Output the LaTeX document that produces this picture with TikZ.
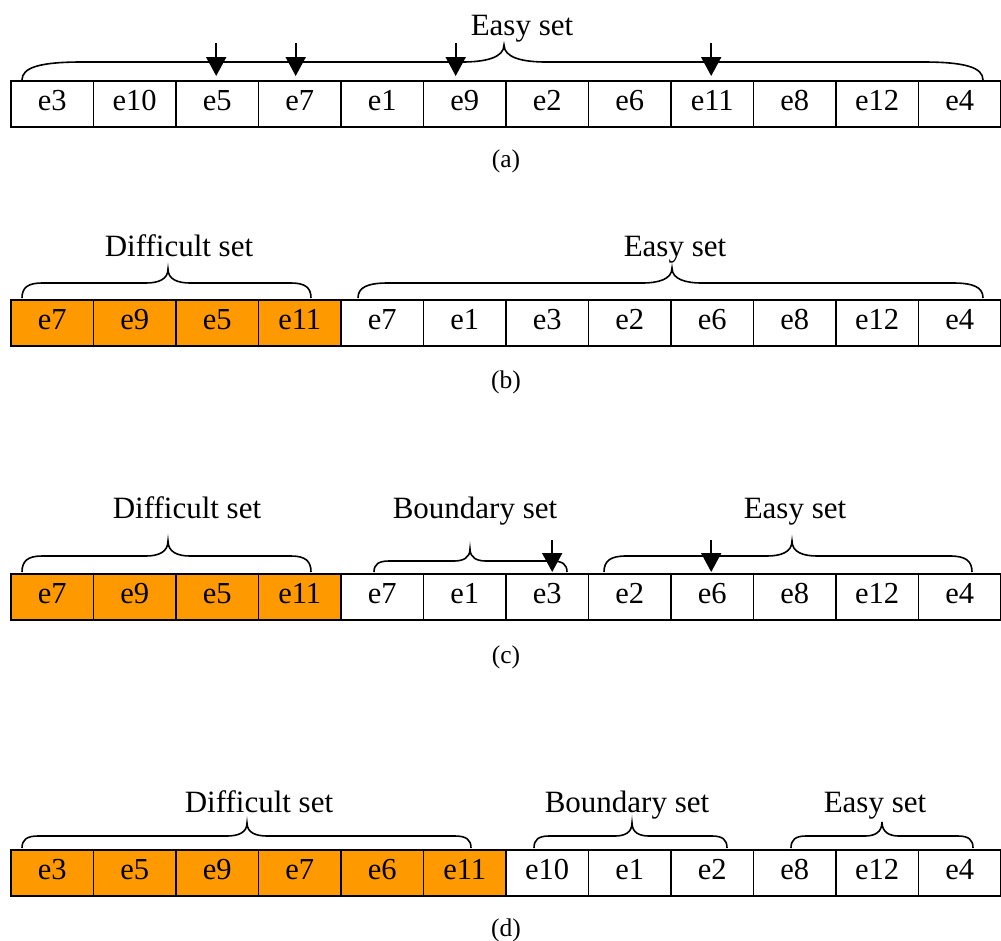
\documentclass[tikz,border=0pt]{standalone}
\usepackage{fontspec}
\setmainfont{Liberation Serif}
\usetikzlibrary{arrows.meta}
\definecolor{cellorange}{HTML}{FF9900}
\tikzset{
  cellbox/.style={draw=black, line width=1.9pt, minimum width=82.5pt, minimum height=46pt,
    inner sep=0pt, text height=30pt, text depth=16pt, anchor=north west,
    font=\fontsize{30.5}{36}\selectfont},
  setlabel/.style={anchor=base, inner sep=0pt, font=\fontsize{31}{36}\selectfont},
  caption/.style={anchor=base, inner sep=0pt, font=\fontsize{25.5}{30}\selectfont},
  bracestyle/.style={draw=black, line width=1.6pt},
  pointer/.style={draw=black, line width=1.9pt, -{Triangle[width=20pt,length=19pt]}},
}
\newcommand\cellrow[4]{%
  \foreach \t [count=\i from 0] in {#4} {
    \pgfmathtruncatemacro\orng{\i<#3}
    \ifnum\orng=1 \def\fc{cellorange}\else\def\fc{white}\fi
    \node[cellbox, fill=\fc] (#1\i) at ({10+82.5*\i},#2) {\t};
  }}
% x1, xm, x2, y0, yl, yt, r, s
\newcommand\setbrace[8]{%
  \draw[bracestyle] (#1,#4) .. controls (#1,{#5+0.3*(#4-#5)}) and ({#1+0.3*#7},#5) .. ({#1+#7},#5)
    -- ({#2-#8},#5) .. controls ({#2-0.45*#8},#5) and (#2,{#5-0.25*(#5-#6)}) .. (#2,#6)
    .. controls (#2,{#5-0.25*(#5-#6)}) and ({#2+0.45*#8},#5) .. ({#2+#8},#5)
    -- ({#3-#7},#5) .. controls ({#3-0.3*#7},#5) and (#3,{#5+0.3*(#4-#5)}) .. (#3,#4);}
\begin{document}
\begin{tikzpicture}[x=1pt,y=-1pt]
\useasboundingbox (0,0) rectangle (1001,940);
% row (a)
\cellrow{a}{80}{0}{e3,e10,e5,e7,e1,e9,e2,e6,e11,e8,e12,e4}
\setbrace{22}{504}{983}{80}{62}{45}{60}{42}
\node[setlabel] (aeasy) at (522,35) {Easy set};
\foreach \c/\dx in {2/-1,3/-4,5/-9,8/-1} {
  \draw[pointer] ([xshift=\dx pt,yshift=37pt]a\c.north) -- ([xshift=\dx pt,yshift=4pt]a\c.north);
}
\node[caption] (capa) at (506,167) {(a)};
% row (b)
\cellrow{b}{299}{4}{e7,e9,e5,e11,e7,e1,e3,e2,e6,e8,e12,e4}
\setbrace{22}{168}{311}{298}{283}{269}{20}{22}
\setbrace{358}{672}{983}{298}{283}{268}{30}{30}
\node[setlabel] (bdiff) at (179,256) {Difficult set};
\node[setlabel] (beasy) at (675,256) {Easy set};
\node[caption] (capb) at (506,388) {(b)};
% row (c)
\cellrow{c}{573}{4}{e7,e9,e5,e11,e7,e1,e3,e2,e6,e8,e12,e4}
\setbrace{22}{168}{311}{572}{556}{541}{20}{22}
\setbrace{374}{470}{567}{572}{561}{549}{15}{16}
\setbrace{604}{792}{972}{572}{556}{541}{22}{25}
\node[setlabel] (cdiff) at (187,518) {Difficult set};
\node[setlabel] (cbound) at (475,518) {Boundary set};
\node[setlabel] (ceasy) at (795,518) {Easy set};
\draw[pointer] ([xshift=5pt,yshift=33pt]c6.north) -- ([xshift=5pt,yshift=1pt]c6.north);
\draw[pointer] ([xshift=-1pt,yshift=33pt]c8.north) -- ([xshift=-1pt,yshift=1pt]c8.north);
\node[caption] (capc) at (506,663) {(c)};
% row (d)
\cellrow{d}{849}{6}{e3,e5,e9,e7,e6,e11,e10,e1,e2,e8,e12,e4}
\setbrace{22}{247}{471}{848}{836}{823}{16}{20}
\setbrace{534}{632}{727}{848}{836}{823}{15}{17}
\setbrace{791}{882}{973}{848}{836}{822}{15}{17}
\node[setlabel] (ddiff) at (259,812) {Difficult set};
\node[setlabel] (dbound) at (627,812) {Boundary set};
\node[setlabel] (deasy) at (875,812) {Easy set};
\node[caption] (capd) at (506,936) {(d)};
\end{tikzpicture}
\end{document}
